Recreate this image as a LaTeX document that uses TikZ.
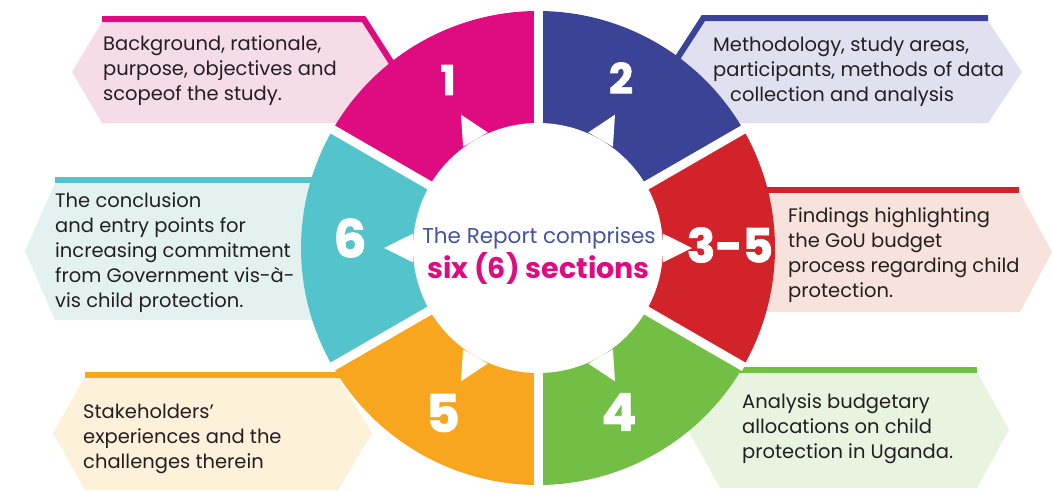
\documentclass[tikz,border=0pt]{standalone}
\usepackage{fontspec}
\setmainfont{Poppins}
\newfontfamily\heavyfont{Poppins}[BoldFeatures={FakeBold=1.5}]
\usetikzlibrary{calc}
\definecolor{cMag}{HTML}{DE0C80}
\definecolor{cBlue}{HTML}{3B4397}
\definecolor{cRed}{HTML}{D3232A}
\definecolor{cGreen}{HTML}{73BF45}
\definecolor{cOrange}{HTML}{F8A61D}
\definecolor{cTeal}{HTML}{53C4CB}
\definecolor{fPink}{HTML}{F6DCE6}
\definecolor{fLav}{HTML}{E1E0F0}
\definecolor{fPeach}{HTML}{F8E3DC}
\definecolor{fGreen}{HTML}{E8F3E0}
\definecolor{fCream}{HTML}{FEF1DA}
\definecolor{fTeal}{HTML}{E3F2F1}
\definecolor{txt}{HTML}{231F20}
\definecolor{ctrBlue}{HTML}{4653A3}
\begin{document}
\begin{tikzpicture}[x=1pt,y=-1pt,
  stripe/.style={draw=#1, line width=6pt, line join=miter},
  gapline/.style={draw=white, line width=9pt},
  body/.style={font=\fontsize{19.5}{25}\selectfont, text=txt, align=left, inner sep=0pt, anchor=base west},
  num/.style={font=\heavyfont\bfseries\fontsize{#1}{#1}\selectfont, text=white, inner sep=0pt},
  ctrA/.style={font=\fontsize{21.5}{22}\selectfont, text=ctrBlue, inner sep=0pt, anchor=base},
  ctrB/.style={font=\bfseries\fontsize{28.5}{30}\selectfont, text=cMag, inner sep=0pt, anchor=base}]
\fill[white] (0,0) rectangle (1052,491);
\useasboundingbox (0,0) rectangle (1052,491);

% label boxes
\fill[fPink] (72,72) -- (102,22) -- (362,22) -- (394,72) -- (362,123) -- (102,123) -- cycle;
\draw[stripe=cMag] (102,19) -- (363.6,19) -- (396.5,70.4);

\fill[fLav] (672,72) -- (705,21) -- (988,21) -- (1022,72) -- (988,123) -- (705,123) -- cycle;
\draw[stripe=cBlue] (988,18) -- (703.4,18) -- (669.5,70.4);

\fill[fPeach] (736,252) -- (768,193) -- (1020,193) -- (1052,252) -- (1020,312) -- (768,312) -- cycle;
\draw[stripe=cRed] (760,190) -- (1019,190);

\fill[fGreen] (688,430) -- (720,372) -- (977,372) -- (1009,430) -- (977,488) -- (720,488) -- cycle;
\draw[stripe=cGreen] (720,369.5) -- (977,369.5);

\fill[fCream] (53,433) -- (85,377) -- (338,377) -- (372,433) -- (338,490) -- (85,490) -- cycle;
\draw[stripe=cOrange] (85,374.5) -- (345,374.5);

\fill[fTeal] (25,251) -- (55,183) -- (330,183) -- (362,251) -- (330,320) -- (55,320) -- cycle;
\draw[stripe=cTeal] (55,180) -- (330,180);

% ring
\coordinate (C) at (538,248);
\foreach \a/\b/\c in {-150/-90/cMag, -90/-30/cBlue, -30/30/cRed, 30/90/cGreen, 90/150/cOrange, 150/210/cTeal}
  \fill[\c] (C) -- ++(\a:237) arc[start angle=\a, end angle=\b, radius=237] -- cycle;
\foreach \a in {-150,-90,-30,30,90,150}
  \draw[gapline] (C) -- ++(\a:238);
\fill[white] (C) circle[radius=125];
\foreach \m in {-120,-60,0,60,120,180}
  \fill[white] ($(C)+(\m-6.5:126)$) -- ($(C)+(\m:154)$) -- ($(C)+(\m+6.5:126)$) -- cycle;

% numbers
\node[num=41] (n1) at (448,80) {1};
\node[num=42] (n2) at (621,78) {2};
\node[num=47] (n35) at (730,245) {3-5};
\node[num=52] (n4) at (619,412) {4};
\node[num=52] (n5) at (443,413) {5};
\node[num=52] (n6) at (350,238) {6};

% centre text
\node[ctrA] (c1) at (539,243) {The Report comprises};
\node[ctrB] (c2) at (538.5,278) {six (6) sections};

% box texts (anchor = baseline of the last line)
\node[body] (t1) at (103,100) {Background, rationale,\\purpose, objectives and\\scopeof the study.};
\node[body] (t2) at (713,101) {Methodology, study areas,\\participants, methods of data\\\hspace*{17pt}collection and analysis};
\node[body] (t3) at (788,297) {Findings highlighting\\the GoU budget\\process regarding child\\protection.};
\node[body] (t6) at (55,307) {The conclusion\\and entry points for\\increasing commitment\\from Government vis-à-\\vis child protection.};
\node[body] (t5) at (83,468) {Stakeholders’\\experiences and the\\challenges therein};
\node[body] (t4) at (742,458) {Analysis budgetary\\allocations on child\\protection in Uganda.};
\end{tikzpicture}
\end{document}
